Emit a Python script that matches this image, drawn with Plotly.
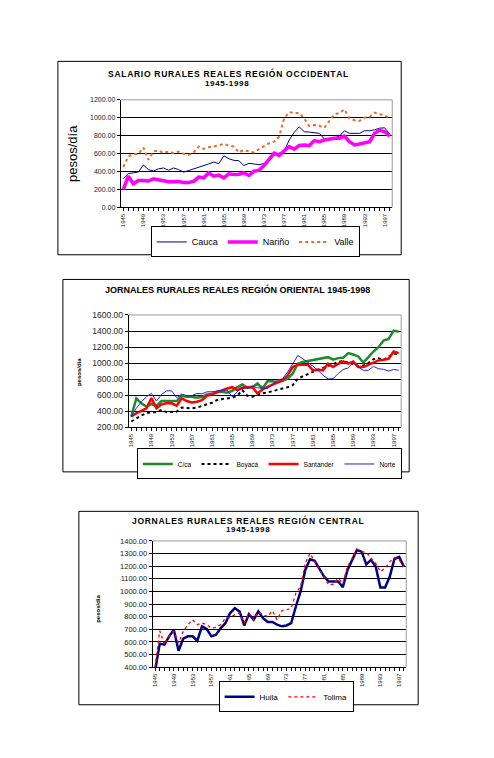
"""Jornales rurales reales por región, 1945-1998"""

import plotly.graph_objs as go

FONT = "Liberation Sans, Arial, sans-serif"
W, H = 494, 758
OFF = 8  # the page body adds an 8px margin

years = list(range(1945, 1999))
label_years = list(range(1945, 1999, 4))
tick_labels = [str(y) for y in label_years]

# Región occidental
cauca = [320, 378, 385, 396, 473, 422, 407, 430, 440, 415,
         440, 422, 393, 411, 430, 448, 459, 485, 506, 488,
         576, 543, 525, 521, 466, 492, 485, 477, 488, 514,
         587, 606, 624, 752, 837, 899, 844, 840, 833, 826,
         763, 767, 774, 796, 855, 826, 826, 826, 855, 855,
         866, 884, 888, 818]
narino = [202, 349, 264, 301, 301, 294, 320, 312, 297, 286,
          290, 290, 279, 279, 290, 338, 330, 385, 349, 360,
          330, 374, 367, 371, 385, 356, 404, 415, 466, 532,
          606, 580, 635, 679, 650, 690, 697, 690, 745, 734,
          752, 763, 771, 771, 796, 734, 697, 708, 723, 734,
          826, 862, 844, 796]
valle = [451, 569, 595, 595, 668, 532, 624, 635, 606, 624,
         606, 624, 598, 587, 613, 679, 653, 672, 679, 697,
         708, 690, 679, 613, 642, 624, 613, 650, 679, 716,
         734, 789, 991, 1064, 1053, 1053, 991, 906, 918, 910,
         888, 962, 1039, 1053, 1094, 991, 973, 965, 1002, 1009,
         1057, 1039, 1028, 991]

# Región oriental
cca = [336, 562, 500, 459, 492, 467, 529, 529, 529, 529,
       595, 582, 582, 570, 582, 611, 619, 644, 644, 632,
       656, 701, 734, 697, 701, 747, 685, 775, 775, 763,
       780, 808, 870, 993, 1014, 1026, 1034, 1047, 1063, 1075,
       1043, 1063, 1067, 1125, 1108, 1084, 1006, 1075, 1145, 1199,
       1281, 1301, 1404, 1392]
boyaca = [274, 315, 348, 377, 389, 389, 418, 389, 389, 397,
          447, 438, 438, 447, 471, 488, 508, 541, 553, 562,
          570, 595, 664, 595, 582, 611, 619, 636, 652, 664,
          685, 701, 726, 808, 837, 858, 890, 919, 940, 964,
          993, 1014, 1026, 1010, 990, 960, 970, 1000, 1050, 1060,
          1040, 1080, 1120, 1110]
santander = [336, 377, 406, 438, 565, 438, 488, 500, 500, 471,
             562, 529, 512, 520, 541, 595, 611, 636, 656, 685,
             701, 664, 693, 701, 705, 623, 673, 705, 734, 759,
             788, 849, 952, 981, 981, 981, 911, 919, 911, 993,
             952, 993, 1022, 993, 1022, 952, 952, 981, 1014, 1034,
             1043, 1055, 1145, 1125]
norte = [336, 438, 520, 582, 623, 529, 611, 656, 656, 570,
         615, 595, 595, 623, 619, 644, 644, 656, 664, 664,
         582, 644, 697, 685, 714, 693, 685, 685, 734, 788,
         808, 890, 993, 1096, 1055, 1014, 964, 911, 849, 804,
         808, 870, 923, 940, 1006, 952, 911, 911, 960, 931,
         923, 903, 923, 911]

# Región central
huila = [370, 587, 579, 645, 697, 531, 626, 645, 645, 610,
         724, 703, 645, 658, 710, 750, 829, 868, 842, 731,
         821, 776, 842, 789, 758, 758, 737, 724, 731, 750,
         881, 1000, 1171, 1255, 1242, 1184, 1118, 1079, 1079, 1079,
         1034, 1171, 1250, 1328, 1315, 1215, 1250, 1197, 1031, 1031,
         1118, 1257, 1273, 1197]
tolima = [400, 689, 579, 645, 684, 592, 684, 737, 776, 737,
          750, 737, 710, 716, 737, 789, 794, 816, 829, 750,
          829, 776, 837, 816, 802, 847, 776, 847, 855, 868,
          986, 1039, 1223, 1302, 1236, 1171, 1105, 1052, 1058, 1105,
          1065, 1197, 1263, 1336, 1315, 1310, 1263, 1223, 1157, 1184,
          1236, 1268, 1250, 1197]


def px(x):
    return (x - OFF) / W


def py(y):
    return 1 - (y - OFF) / H


def spaced(text):
    # Excel titles are letter-spaced; a hair space between letters mimics it
    return "\u200a".join(text)


def line(y, name, color, width, dash, ax, leg):
    return go.Scatter(x=years, y=y, name=name, mode="lines",
                      line=dict(color=color, width=width, dash=dash),
                      xaxis="x" + ax, yaxis="y" + ax, legend=leg)


fig = go.Figure([
    line(cauca, "Cauca", "#000080", 1, "solid", "", "legend"),
    line(narino, "Nariño", "#FF00FF", 3.5, "solid", "", "legend"),
    line(valle, "Valle", "#E0702A", 2, "dot", "", "legend"),
    line(cca, "C/ca", "#1E8A2A", 2.5, "solid", "2", "legend2"),
    line(boyaca, "Boyacá", "#000000", 2, "dot", "2", "legend2"),
    line(santander, "Santander", "#FF0000", 2.5, "solid", "2", "legend2"),
    line(norte, "Norte", "#2222DD", 1, "solid", "2", "legend2"),
    line(huila, "Huila", "#000080", 2.5, "solid", "3", "legend3"),
    line(tolima, "Tolima", "#FF0000", 1.3, "dot", "3", "legend3"),
])


def xaxis(dom, anchor):
    return dict(domain=[px(dom[0]), px(dom[1])], anchor=anchor,
                range=[1944.5, 1998.5], tickmode="array",
                tickvals=label_years, ticktext=tick_labels, tickangle=-90,
                tickfont=dict(size=6, family=FONT, color="#222"),
                ticks="outside", ticklen=3, tickcolor="black",
                showline=True, linecolor="black", linewidth=1,
                showgrid=False, zeroline=False,
                minor=dict(tickmode="linear", tick0=1945, dtick=1,
                           ticks="outside", ticklen=3, tickcolor="black",
                           showgrid=False))


def yaxis(dom, anchor, rng, dtick, size):
    return dict(domain=[py(dom[1]), py(dom[0])], anchor=anchor,
                range=rng, dtick=dtick, tickformat=".2f",
                tickfont=dict(size=size, family=FONT, color="#222"),
                ticks="outside", ticklen=3, tickcolor="black",
                showline=True, linecolor="black", linewidth=1,
                showgrid=True, gridcolor="black", gridwidth=1,
                zeroline=False)


def legend(x, y, size):
    return dict(x=px(x), y=py(y), xanchor="left", yanchor="middle",
                orientation="h", bordercolor="black", borderwidth=1,
                bgcolor="white", font=dict(size=size, family=FONT,
                                           color="black"),
                itemwidth=30, tracegroupgap=0)


boxes = [(57, 57, 401, 253), (62, 278, 409, 473), (78, 513, 418, 709)]
shapes = [dict(type="rect", xref="paper", yref="paper",
               x0=px(b[0]), x1=px(b[2]), y0=py(b[3]), y1=py(b[1]),
               line=dict(color="black", width=1)) for b in boxes]
# grey plot-area frame (top and right edges)
plot_areas = [(120, 96, 392, 205), (128, 314, 401, 428), (152, 543, 406, 671)]
for p in plot_areas:
    shapes.append(dict(type="path", xref="paper", yref="paper",
                       path="M %f,%f L %f,%f L %f,%f" % (
                           px(p[0]), py(p[1]), px(p[2]), py(p[1]),
                           px(p[2]), py(p[3])),
                       line=dict(color="#999", width=1)))


def note(text, x, y, size, bold=True, angle=0):
    return dict(text="<b>%s</b>" % text if bold else text,
                x=px(x), y=py(y), xref="paper", yref="paper",
                xanchor="center", yanchor="middle",
                showarrow=False, textangle=angle,
                font=dict(size=size, family=FONT, color="black"))


annotations = [
    note(spaced("SALARIO RURALES REALES REGIÓN OCCIDENTAL"), 227, 69, 8.5),
    note(spaced("1945-1998"), 226, 79, 8),
    note("pesos/día", 71, 150, 13, bold=False, angle=-90),
    note("JORNALES RURALES REALES REGIÓN ORIENTAL 1945-1998", 237, 288, 9),
    note("pesos/día", 78, 372, 6, angle=-90),
    note(spaced("JORNALES RURALES REALES REGIÓN CENTRAL"), 247, 522, 8.5),
    note(spaced("1945-1998"), 247, 531, 8),
    note("pesos/día", 97, 612, 6, angle=-90),
]

fig.update_layout(
    width=W, height=H, margin=dict(l=0, r=0, t=0, b=0),
    paper_bgcolor="white", plot_bgcolor="white",
    font=dict(family=FONT),
    xaxis=xaxis((120, 392), "y"),
    yaxis=yaxis((96, 205), "x", [0, 1200], 200, 7),
    xaxis2=xaxis((128, 401), "y2"),
    yaxis2=yaxis((314, 428), "x2", [200, 1600], 200, 8.5),
    xaxis3=xaxis((152, 406), "y3"),
    yaxis3=yaxis((543, 671), "x3", [400, 1400], 100, 7.5),
    legend=legend(150, 240, 9),
    legend2=legend(136, 465, 6.5),
    legend3=legend(218, 701, 8),
    shapes=shapes,
    annotations=annotations,
)

fig.write_html("out.html")
